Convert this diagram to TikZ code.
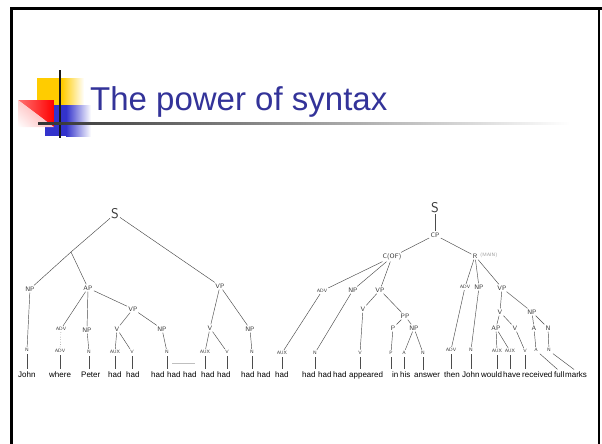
\documentclass[tikz,border=0pt]{standalone}
\usepackage{fontspec}
\setmainfont{Liberation Sans}
\usetikzlibrary{shadings}
\definecolor{titleblue}{HTML}{333399}
\definecolor{yellowc}{HTML}{FFCC00}
\definecolor{bluec}{HTML}{3333CC}
\tikzset{
  big/.style={font=\sffamily\fontsize{14}{14}\selectfont, text=black!80, inner sep=1pt},
  lab/.style={font=\sffamily\fontsize{6.5}{6.5}\selectfont, text=black!80, inner sep=1.2pt},
  leaf/.style={font=\sffamily\fontsize{4.8}{4.8}\selectfont, text=black!80, inner sep=1.2pt},
  word/.style={font=\fontsize{8}{8}\selectfont, anchor=base west, inner sep=0pt},
  edge/.style={draw=black!70, line width=0.45pt},
  tick/.style={draw=black!70, line width=0.45pt, shorten >=2.5pt, shorten <=1pt},
}
\begin{document}
\begin{tikzpicture}[x=1pt,y=-1pt]
\useasboundingbox (0,0) rectangle (602,444);
\fill[white] (0,0) rectangle (602,444);
% frame
\draw[line width=2.4pt] (11.5,444) -- (11.5,8.5) -- (602,8.5);
\draw[line width=2.4pt] (599,8.5) -- (599,444);
% title decoration
\fill[yellowc] (37,78) rectangle (62,105);
\shade[left color=yellowc, right color=white] (62,78) rectangle (84,105);
\fill[bluec] (45,105) rectangle (66,136);
\shade[left color=bluec, right color=white] (66,105) rectangle (91,136);
\begin{scope}
  \clip (18,100) -- (54,100) -- (54,127) -- cycle;
  \shade[left color=red!55, right color=red] (18,100) rectangle (54,127);
\end{scope}
\begin{scope}
  \clip (18,100) -- (54,127) -- (18,127) -- cycle;
  \shade[upper right=red!40, upper left=red!20, lower right=red!25, lower left=white] (18,100) rectangle (54,127);
\end{scope}
\draw[line width=2.5pt, black!90] (60,70) -- (60,138);
\shade[left color=black!80, right color=white] (38,122) rectangle (570,124.2);
\node[anchor=base west, text=titleblue, font=\fontsize{33}{33}\selectfont, inner sep=0pt] (title) at (90,110) {The power of syntax};

% words
\foreach \n/\x/\t in {w1/18/John, w2/49/where, w3/81/Peter, w4/108/had, w5/126/had,
  w6/151/had, w7/167/had, w8/183/had, w9/201/had, w10/217/had, w11/241/had, w12/257/had,
  w13/275/had, w14/302/had, w15/318/had, w16/333/had, w17/349/appeared, w18/392/in,
  w19/400/his, w20/414/answer, w21/444/then, w22/462/John, w23/481/would, w24/503/have,
  w25/522/received, w26/554/full, w27/565/marks}
  \node[word] (\n) at (\x,377) {\t};

% ---------- left tree ----------
\node[big] (S1) at (115,214) {S};
\node[lab] (NP1) at (30,289) {NP};
\node[lab] (AP1) at (88,288) {AP};
\node[lab] (VP1) at (220,286) {VP};
\coordinate (b1) at (71,252);
\draw[edge] (S1) -- (b1) -- (NP1);
\draw[edge] (b1) -- (AP1);
\draw[edge] (S1) -- (VP1);
\node[leaf] (ADV1) at (61,329) {ADV};
\node[lab] (NP2) at (87,330) {NP};
\node[lab] (VP2) at (133,309) {VP};
\draw[edge] (AP1) -- (ADV1);
\draw[edge] (AP1) -- (NP2);
\draw[edge] (AP1) -- (VP2);
\node[lab] (V2) at (117,329) {V};
\node[lab] (NP3) at (162,329) {NP};
\draw[edge] (VP2) -- (V2);
\draw[edge] (VP2) -- (NP3);
\node[leaf] (AUX1) at (115,352) {AUX};
\node[leaf] (V3) at (132,352) {V};
\draw[edge] (V2) -- (AUX1);
\draw[edge] (V2) -- (V3);
\node[leaf] (N3) at (167,352) {N};
\draw[edge] (NP3) -- (N3);
\node[leaf] (Nj) at (27,350) {N};
\draw[edge] (NP1) -- (Nj);
\node[leaf] (ADVl) at (60,351) {ADV};
\draw[edge, dotted] (ADV1) -- (ADVl);
\node[leaf] (Np) at (89,352) {N};
\draw[edge] (NP2) -- (Np);
\node[lab] (V4) at (210,328) {V};
\node[lab] (NP4) at (250,329) {NP};
\draw[edge] (VP1) -- (V4);
\draw[edge] (VP1) -- (NP4);
\node[leaf] (AUX2) at (205,352) {AUX};
\node[leaf] (V5) at (227,352) {V};
\draw[edge] (V4) -- (AUX2);
\draw[edge] (V4) -- (V5);
\node[leaf] (N4) at (252,352) {N};
\draw[edge] (NP4) -- (N4);
\node[leaf] (AUX3) at (282,353) {AUX};
\draw[black!25, line width=0.4pt] (172,363) -- (195,363);

% ---------- right tree ----------
\node[big] (S2) at (435,208) {S};
\node[lab] (CP) at (435,235) {CP};
\node[lab] (COF) at (392,257) {C(OF)};
\node[lab] (RM) at (475,256) {R};
\node[leaf, text=black!40, anchor=west] (RMx) at (479,255) {(MAIN)};
\draw[edge] (S2) -- (CP);
\draw[edge] (CP) -- (COF);
\draw[edge] (CP) -- (RM);
\node[leaf] (ADVa) at (322,291) {ADV};
\node[lab] (NPa) at (353,290) {NP};
\node[lab] (VPa) at (380,290) {VP};
\draw[edge] (COF) -- (ADVa);
\draw[edge] (COF) -- (NPa);
\draw[edge] (COF) -- (VPa);
\draw[edge] (ADVa) -- (AUX3);
\node[leaf] (Nb) at (315,353) {N};
\draw[edge] (NPa) -- (Nb);
\node[lab] (Vb) at (363,309) {V};
\node[lab] (PP) at (405,316) {PP};
\draw[edge] (VPa) -- (Vb);
\draw[edge] (VPa) -- (PP);
\node[leaf] (Vc) at (360,353) {V};
\draw[edge] (Vb) -- (Vc);
\node[lab] (P) at (393,328) {P};
\node[lab] (NPb) at (414,328) {NP};
\draw[edge] (PP) -- (P);
\draw[edge] (PP) -- (NPb);
\node[leaf] (Pl) at (391,353) {P};
\draw[edge] (P) -- (Pl);
\node[leaf] (Al) at (404,353) {A};
\node[leaf] (Nl) at (423,353) {N};
\draw[edge] (NPb) -- (Al);
\draw[edge] (NPb) -- (Nl);
\node[leaf] (ADVc) at (465,287) {ADV};
\node[lab] (NPc) at (479,287) {NP};
\node[lab] (VPc) at (502,288) {VP};
\draw[edge] (RM) -- (ADVc);
\draw[edge] (RM) -- (NPc);
\draw[edge] (RM) -- (VPc);
\node[leaf] (ADVl2) at (451,350) {ADV};
\draw[edge] (ADVc) -- (ADVl2);
\node[leaf] (Nc) at (471,350) {N};
\draw[edge] (NPc) -- (Nc);
\node[lab] (Vd) at (500,312) {V};
\node[lab] (NPd) at (532,312) {NP};
\draw[edge] (VPc) -- (Vd);
\draw[edge] (VPc) -- (NPd);
\node[lab] (APd) at (496,328) {AP};
\node[lab] (Ve) at (515,328) {V};
\draw[edge] (Vd) -- (APd);
\draw[edge] (Vd) -- (Ve);
\node[leaf] (AUXd) at (497,351) {AUX};
\node[leaf] (AUXe) at (510,351) {AUX};
\draw[edge] (APd) -- (AUXd);
\draw[edge] (APd) -- (AUXe);
\node[leaf] (Vf) at (525,351) {V};
\draw[edge] (Ve) -- (Vf);
\node[lab] (Ad) at (534,328) {A};
\node[lab] (Nd) at (548,328) {N};
\draw[edge] (NPd) -- (Ad);
\draw[edge] (NPd) -- (Nd);
\node[leaf] (Al2) at (536,350) {A};
\node[leaf] (Nl2) at (549,350) {N};
\draw[edge] (Ad) -- (Al2);
\draw[edge] (Nd) -- (Nl2);

% ticks to words
\foreach \a/\b in {Nj/w1, ADVl/w2, Np/w3, AUX1/w4, V3/w5, N3/w7, AUX2/w9, V5/w10,
  N4/w11, AUX3/w13, Nb/w14, Vc/w17, Pl/w18, Al/w19, Nl/w20, ADVl2/w21, Nc/w22,
  AUXd/w23, AUXe/w24, Vf/w25}
  \draw[tick] (\a.south) -- (\a.south |- \b.north);
\draw[tick] (Al2.south east) -- (w26.north);
\draw[tick] (Nl2.south east) -- (w27.north);
\end{tikzpicture}
\end{document}
